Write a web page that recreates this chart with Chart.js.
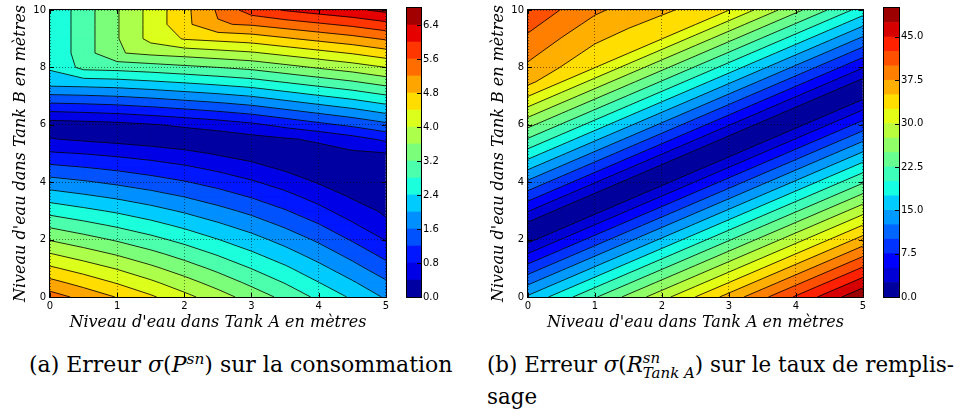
<!DOCTYPE html>
<html>
<head>
  <meta charset="UTF-8">
  <title>Erreurs selon les niveaux d'eau</title>
  <style>
    body {
      margin: 0;
      width: 960px;
      height: 416px;
      overflow: hidden;
      position: relative;
      background: #fff;
    }

    canvas {
      position: absolute;
      top: 0;
    }

    /* légendes sous les figures */
    .legende {
      position: absolute;
      font-family: "DejaVu Serif", serif;
      font-size: 22px;
      line-height: 29px;
      color: #000;
      white-space: nowrap;
    }

    .legende i {
      font-style: italic;
    }

    .sup {
      font-size: 0.7em;
      font-style: italic;
      vertical-align: 0.55em;
      line-height: 0;
    }

    .supsub {
      display: inline-block;
      font-size: 0.7em;
      font-style: italic;
      line-height: 1.05;
      vertical-align: -0.43em;
    }

    .supsub span {
      display: block;
    }
  </style>
</head>
<body>
  <canvas id="contourA" width="392" height="340" style="left:0px"></canvas>
  <canvas id="barreA" width="60" height="340" style="left:400px"></canvas>
  <canvas id="contourB" width="391" height="340" style="left:478px"></canvas>
  <canvas id="barreB" width="60" height="340" style="left:877px"></canvas>

  <div class="legende" style="left:29px; top:350px">(a) Erreur <i>σ</i>(<i>P</i><span class="sup">sn</span>) sur la consommation</div>
  <div class="legende" style="left:487px; top:350px; font-size:21.4px">(b) Erreur <i>σ</i>(<i>R</i><span class="supsub"><span>sn</span><span>Tank A</span></span>) sur le taux de remplis-<br>sage</div>

  <script src="https://cdn.jsdelivr.net/npm/chart.js"></script>
  <script>
    // grille des niveaux (m)
    var niveauA = [0, 0.5, 1, 1.5, 2, 2.5, 3, 3.5, 4, 4.5, 5];
    var niveauB = [0, 0.5, 1, 1.5, 2, 2.5, 3, 3.5, 4, 4.5, 5, 5.5, 6, 6.5, 7, 7.5, 8, 8.5, 9, 9.5, 10];

    // une ligne par niveau B, une colonne par niveau A
    var erreurConso = [
      [5.38, 5.08, 4.78, 4.46, 4.12, 3.78, 3.43, 3.09, 2.71, 2.34, 1.95],
      [4.93, 4.65, 4.37, 4.08, 3.76, 3.44, 3.11, 2.78, 2.41, 2.05, 1.66],
      [4.47, 4.22, 3.97, 3.69, 3.40, 3.10, 2.79, 2.47, 2.12, 1.75, 1.36],
      [4.02, 3.79, 3.56, 3.31, 3.04, 2.76, 2.46, 2.16, 1.82, 1.46, 1.07],
      [3.57, 3.36, 3.15, 2.92, 2.68, 2.41, 2.15, 1.85, 1.53, 1.16, 0.78],
      [3.12, 2.93, 2.74, 2.54, 2.31, 2.07, 1.82, 1.54, 1.23, 0.87, 0.48],
      [2.66, 2.50, 2.34, 2.15, 1.95, 1.73, 1.50, 1.23, 0.93, 0.58, 0.34],
      [2.21, 2.07, 1.93, 1.77, 1.59, 1.39, 1.17, 0.93, 0.64, 0.36, 0.26],
      [1.76, 1.65, 1.52, 1.38, 1.23, 1.05, 0.85, 0.62, 0.37, 0.25, 0.22],
      [1.31, 1.22, 1.12, 1.00, 0.87, 0.71, 0.53, 0.33, 0.21, 0.22, 0.30],
      [0.85, 0.79, 0.71, 0.62, 0.51, 0.36, 0.23, 0.13, 0.25, 0.33, 0.38],
      [0.42, 0.34, 0.27, 0.19, 0.10, 0.15, 0.26, 0.36, 0.46, 0.65, 0.88],
      [0.20, 0.24, 0.29, 0.37, 0.47, 0.58, 0.72, 0.91, 1.10, 1.28, 1.50],
      [0.85, 0.89, 0.94, 1.03, 1.13, 1.24, 1.37, 1.55, 1.73, 1.91, 2.13],
      [1.53, 1.56, 1.61, 1.69, 1.79, 1.89, 2.01, 2.19, 2.37, 2.54, 2.75],
      [2.21, 2.24, 2.28, 2.36, 2.45, 2.55, 2.66, 2.83, 3.00, 3.17, 3.38],
      [2.45, 2.91, 2.95, 3.02, 3.11, 3.20, 3.30, 3.47, 3.64, 3.80, 4.00],
      [2.45, 3.01, 3.57, 3.69, 3.77, 3.86, 3.95, 4.11, 4.27, 4.43, 4.63],
      [2.45, 3.01, 3.57, 4.13, 4.43, 4.51, 4.59, 4.75, 4.91, 5.06, 5.25],
      [2.45, 3.01, 3.57, 4.13, 4.69, 5.17, 5.24, 5.39, 5.54, 5.69, 5.88],
      [2.45, 3.01, 3.57, 4.13, 4.69, 5.25, 5.81, 6.03, 6.18, 6.32, 6.50]
    ];

    var erreurRemplissage = [
      [15.40, 18.83, 22.25, 25.68, 29.10, 32.53, 35.95, 39.38, 42.80, 46.23, 49.65],
      [11.98, 15.40, 18.83, 22.25, 25.68, 29.10, 32.53, 35.95, 39.38, 42.80, 46.23],
      [8.55, 11.98, 15.40, 18.83, 22.25, 25.68, 29.10, 32.53, 35.95, 39.38, 42.80],
      [5.13, 8.55, 11.98, 15.40, 18.83, 22.25, 25.68, 29.10, 32.53, 35.95, 39.38],
      [1.70, 5.13, 8.55, 11.98, 15.40, 18.83, 22.25, 25.68, 29.10, 32.53, 35.95],
      [1.73, 1.70, 5.13, 8.55, 11.98, 15.40, 18.83, 22.25, 25.68, 29.10, 32.53],
      [5.15, 1.73, 1.70, 5.13, 8.55, 11.98, 15.40, 18.83, 22.25, 25.68, 29.10],
      [8.58, 5.15, 1.73, 1.70, 5.13, 8.55, 11.98, 15.40, 18.83, 22.25, 25.68],
      [12.00, 8.58, 5.15, 1.73, 1.70, 5.13, 8.55, 11.98, 15.40, 18.83, 22.25],
      [15.43, 12.00, 8.58, 5.15, 1.73, 1.70, 5.13, 8.55, 11.98, 15.40, 18.83],
      [18.85, 15.43, 12.00, 8.58, 5.15, 1.73, 1.70, 5.13, 8.55, 11.98, 15.40],
      [22.28, 18.85, 15.43, 12.00, 8.58, 5.15, 1.73, 1.70, 5.13, 8.55, 11.98],
      [25.70, 22.28, 18.85, 15.43, 12.00, 8.58, 5.15, 1.73, 1.70, 5.13, 8.55],
      [29.13, 25.70, 22.28, 18.85, 15.43, 12.00, 8.58, 5.15, 1.73, 1.70, 5.13],
      [32.55, 29.13, 25.70, 22.28, 18.85, 15.43, 12.00, 8.58, 5.15, 1.73, 1.70],
      [35.75, 32.55, 29.13, 25.70, 22.28, 18.85, 15.43, 12.00, 8.58, 5.15, 1.73],
      [37.00, 34.90, 32.55, 29.13, 25.70, 22.28, 18.85, 15.43, 12.00, 8.58, 5.15],
      [38.25, 36.15, 34.20, 32.55, 29.13, 25.70, 22.28, 18.85, 15.43, 12.00, 8.58],
      [39.50, 37.40, 35.45, 34.10, 32.55, 29.13, 25.70, 22.28, 18.85, 15.43, 12.00],
      [40.75, 38.65, 36.70, 35.35, 34.20, 32.55, 29.13, 25.70, 22.28, 18.85, 15.43],
      [42.00, 39.90, 37.95, 36.60, 35.45, 34.30, 32.55, 29.13, 25.70, 22.28, 18.85]
    ];

    // niveaux des contours et graduations
    var niveauxConso = [0, 0.4, 0.8, 1.2, 1.6, 2.0, 2.4, 2.8, 3.2, 3.6, 4.0, 4.4, 4.8, 5.2, 5.6, 6.0, 6.4, 6.8];
    var niveauxRemplissage = [0, 2.5, 5, 7.5, 10, 12.5, 15, 17.5, 20, 22.5, 25, 27.5, 30, 32.5, 35, 37.5, 40, 42.5, 45, 47.5, 50];
    var graduationsConso = [0, 0.8, 1.6, 2.4, 3.2, 4.0, 4.8, 5.6, 6.4];
    var graduationsRemplissage = [0, 7.5, 15, 22.5, 30, 37.5, 45];
    var graduationsA = [0, 1, 2, 3, 4, 5];
    var graduationsB = [0, 2, 4, 6, 8, 10];

    Chart.defaults.font.family = "'DejaVu Sans', sans-serif";
    Chart.defaults.font.size = 10;
    Chart.defaults.color = '#000';

    // palette "jet" de matplotlib
    function jet(t) {
      function seg(pts) {
        for (var i = 1; i < pts.length; i++) {
          if (t <= pts[i][0]) {
            var a = pts[i - 1], b = pts[i];
            return a[1] + (b[1] - a[1]) * (t - a[0]) / (b[0] - a[0]);
          }
        }
        return pts[pts.length - 1][1];
      }
      var r = seg([[0, 0], [0.35, 0], [0.66, 1], [0.89, 1], [1, 0.5]]);
      var g = seg([[0, 0], [0.125, 0], [0.375, 1], [0.64, 1], [0.91, 0], [1, 0]]);
      var b = seg([[0, 0.5], [0.11, 1], [0.34, 1], [0.65, 0], [1, 0]]);
      return 'rgb(' + Math.round(r * 255) + ',' + Math.round(g * 255) + ',' + Math.round(b * 255) + ')';
    }

    function couleursBandes(niveaux) {
      var n = niveaux.length - 1;
      var c = [];
      for (var i = 0; i < n; i++) c.push(jet((i + 0.5) / n));
      return c;
    }

    // partie d'une cellule où la valeur dépasse le seuil
    function decoupe(cell, seuil) {
      var out = [];
      for (var i = 0; i < cell.length; i++) {
        var p = cell[i], q = cell[(i + 1) % cell.length];
        var pin = p.v >= seuil, qin = q.v >= seuil;
        if (pin) out.push(p);
        if (pin !== qin) {
          var f = (seuil - p.v) / (q.v - p.v);
          out.push({ x: p.x + f * (q.x - p.x), y: p.y + f * (q.y - p.y), v: seuil });
        }
      }
      return out;
    }

    function segments(cell, seuil) {
      var pts = [];
      for (var i = 0; i < 4; i++) {
        var p = cell[i], q = cell[(i + 1) % 4];
        if ((p.v >= seuil) !== (q.v >= seuil)) {
          var f = (seuil - p.v) / (q.v - p.v);
          pts.push({ x: p.x + f * (q.x - p.x), y: p.y + f * (q.y - p.y) });
        } else {
          pts.push(null);
        }
      }
      var faits = pts.filter(function (p) { return p; });
      if (faits.length === 2) return [faits];
      if (faits.length === 4) {
        var centre = (cell[0].v + cell[1].v + cell[2].v + cell[3].v) / 4;
        if ((centre >= seuil) === (cell[0].v >= seuil)) return [[pts[0], pts[1]], [pts[2], pts[3]]];
        return [[pts[3], pts[0]], [pts[1], pts[2]]];
      }
      return [];
    }

    function pluginContour(xs, ys, z, niveaux) {
      var couleurs = couleursBandes(niveaux);
      return {
        id: 'contour',
        beforeDraw: function (chart) {
          var ctx = chart.ctx, a = chart.chartArea;
          var sx = chart.scales.x, sy = chart.scales.y;
          var cellules = [];
          for (var j = 0; j < ys.length - 1; j++) {
            for (var i = 0; i < xs.length - 1; i++) {
              cellules.push([
                { x: xs[i], y: ys[j], v: z[j][i] },
                { x: xs[i + 1], y: ys[j], v: z[j][i + 1] },
                { x: xs[i + 1], y: ys[j + 1], v: z[j + 1][i + 1] },
                { x: xs[i], y: ys[j + 1], v: z[j + 1][i] }
              ]);
            }
          }
          ctx.save();
          ctx.beginPath();
          ctx.rect(a.left, a.top, a.right - a.left, a.bottom - a.top);
          ctx.clip();

          for (var k = 0; k < couleurs.length; k++) {
            ctx.beginPath();
            cellules.forEach(function (cell) {
              var poly = k === 0 ? cell : decoupe(cell, niveaux[k]);
              if (poly.length < 3) return;
              ctx.moveTo(sx.getPixelForValue(poly[0].x), sy.getPixelForValue(poly[0].y));
              for (var m = 1; m < poly.length; m++) {
                ctx.lineTo(sx.getPixelForValue(poly[m].x), sy.getPixelForValue(poly[m].y));
              }
              ctx.closePath();
            });
            ctx.fillStyle = couleurs[k];
            ctx.fill();
            ctx.strokeStyle = couleurs[k];
            ctx.lineWidth = 0.8;
            ctx.stroke();
          }

          // traits noirs des isolignes
          ctx.beginPath();
          for (var l = 1; l < niveaux.length - 1; l++) {
            cellules.forEach(function (cell) {
              segments(cell, niveaux[l]).forEach(function (s) {
                ctx.moveTo(sx.getPixelForValue(s[0].x), sy.getPixelForValue(s[0].y));
                ctx.lineTo(sx.getPixelForValue(s[1].x), sy.getPixelForValue(s[1].y));
              });
            });
          }
          ctx.strokeStyle = 'rgba(0,0,0,0.9)';
          ctx.lineWidth = 0.9;
          ctx.stroke();
          ctx.restore();
        },
        afterDraw: function (chart) {
          var ctx = chart.ctx, a = chart.chartArea;
          var sx = chart.scales.x, sy = chart.scales.y;
          ctx.save();
          ctx.strokeStyle = '#000';
          ctx.lineWidth = 1;
          ctx.beginPath();
          graduationsA.forEach(function (v) {
            var X = Math.round(sx.getPixelForValue(v)) + 0.5;
            ctx.moveTo(X, a.bottom); ctx.lineTo(X, a.bottom - 4);
            ctx.moveTo(X, a.top); ctx.lineTo(X, a.top + 4);
          });
          graduationsB.forEach(function (v) {
            var Y = Math.round(sy.getPixelForValue(v)) + 0.5;
            ctx.moveTo(a.left, Y); ctx.lineTo(a.left + 4, Y);
            ctx.moveTo(a.right, Y); ctx.lineTo(a.right - 4, Y);
          });
          ctx.stroke();
          ctx.strokeRect(Math.round(a.left) - 0.5, Math.round(a.top) - 0.5,
            Math.round(a.right - a.left) + 1, Math.round(a.bottom - a.top) + 1);
          ctx.restore();
        }
      };
    }

    var cadreBarre = {
      id: 'cadreBarre',
      afterDraw: function (chart) {
        var ctx = chart.ctx, a = chart.chartArea, sy = chart.scales.y;
        ctx.save();
        ctx.strokeStyle = '#000';
        ctx.lineWidth = 1;
        ctx.beginPath();
        sy.ticks.forEach(function (t) {
          var Y = Math.round(sy.getPixelForValue(t.value)) + 0.5;
          ctx.moveTo(a.right, Y); ctx.lineTo(a.right - 4, Y);
        });
        ctx.stroke();
        ctx.strokeRect(Math.round(a.left) - 0.5, Math.round(a.top) - 0.5,
          Math.round(a.right - a.left) + 1, Math.round(a.bottom - a.top) + 1);
        ctx.restore();
      }
    };

    var policeTitre = { family: "'DejaVu Serif', serif", style: 'italic', size: 16 };

    function tracerContour(id, z, niveaux) {
      new Chart(document.getElementById(id), {
        type: 'scatter',
        data: { datasets: [] },
        options: {
          responsive: false,
          animation: false,
          events: [],
          layout: { padding: { top: 5, right: 6, left: 0, bottom: 0 } },
          plugins: { legend: { display: false }, tooltip: { enabled: false } },
          scales: {
            x: {
              type: 'linear', min: 0, max: 5,
              afterBuildTicks: function (s) { s.ticks = graduationsA.map(function (v) { return { value: v }; }); },
              afterFit: function (s) { s.height = 43; },
              grid: { color: 'rgba(0,0,0,0.5)', lineWidth: 1, drawTicks: false },
              border: { display: false, dash: [1, 2] },
              ticks: { padding: 3, maxRotation: 0 },
              title: { display: true, text: "Niveau d'eau dans Tank A en mètres", font: policeTitre, padding: { top: 0, bottom: 8 } }
            },
            y: {
              type: 'linear', min: 0, max: 10,
              afterBuildTicks: function (s) { s.ticks = graduationsB.map(function (v) { return { value: v }; }); },
              afterFit: function (s) { s.width = 50; },
              grid: { color: 'rgba(0,0,0,0.5)', lineWidth: 1, drawTicks: false },
              border: { display: false, dash: [1, 2] },
              ticks: { padding: 4 },
              title: { display: true, text: "Niveau d'eau dans Tank B en mètres", font: policeTitre, padding: { top: 11, bottom: 0 } }
            }
          }
        },
        plugins: [pluginContour(niveauA, niveauB, z, niveaux)]
      });
    }

    function tracerBarre(id, niveaux, graduations, largeurAxe) {
      var couleurs = couleursBandes(niveaux);
      var jeux = [];
      for (var i = 0; i < niveaux.length - 1; i++) {
        jeux.push({
          data: [[niveaux[i], niveaux[i + 1]]],
          backgroundColor: couleurs[i],
          borderWidth: 0,
          barPercentage: 1,
          categoryPercentage: 1,
          grouped: false
        });
      }
      new Chart(document.getElementById(id), {
        type: 'bar',
        data: { labels: [''], datasets: jeux },
        options: {
          responsive: false,
          animation: false,
          events: [],
          layout: { padding: { top: 5, left: 7, right: 0, bottom: 43 } },
          plugins: { legend: { display: false }, tooltip: { enabled: false } },
          scales: {
            x: { display: false },
            y: {
              position: 'right',
              min: niveaux[0], max: niveaux[niveaux.length - 1],
              afterBuildTicks: function (s) { s.ticks = graduations.map(function (v) { return { value: v }; }); },
              afterFit: function (s) { s.width = largeurAxe; },
              grid: { display: false, drawTicks: false },
              border: { display: false },
              ticks: { padding: 2, callback: function (v) { return Number(v).toFixed(1); } }
            }
          }
        },
        plugins: [cadreBarre]
      });
    }

    tracerContour('contourA', erreurConso, niveauxConso);
    tracerBarre('barreA', niveauxConso, graduationsConso, 39);
    tracerContour('contourB', erreurRemplissage, niveauxRemplissage);
    tracerBarre('barreB', niveauxRemplissage, graduationsRemplissage, 38);
  </script>
</body>
</html>
